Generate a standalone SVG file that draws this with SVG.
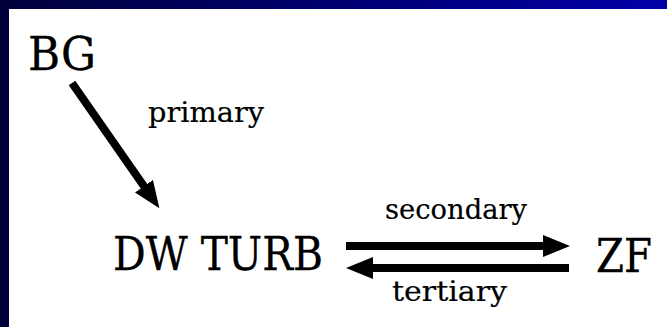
<svg xmlns="http://www.w3.org/2000/svg" width="667" height="327" viewBox="0 0 667 327">
  <defs>
    <linearGradient id="bg" x1="0" y1="0" x2="1" y2="0">
      <stop offset="0" stop-color="#00003a"/>
      <stop offset="1" stop-color="#0000a8"/>
    </linearGradient>
    <marker id="head" markerUnits="userSpaceOnUse" markerWidth="28" markerHeight="22" refX="1" refY="11" orient="auto">
      <path d="M0,0 L27,11 L0,22 Z" fill="#000"/>
    </marker>
    <style>
      .big { font-family: "DejaVu Serif", serif; font-size: 46px; fill: #000; stroke: #000; stroke-width: 0.3; }
      .lbl { font-family: "DejaVu Serif", serif; font-size: 28px; fill: #000; stroke: #000; stroke-width: 0.2; }
      .edge { stroke: #000; stroke-width: 8; fill: none; marker-end: url(#head); }
    </style>
  </defs>
  <rect x="0" y="0" width="667" height="327" fill="url(#bg)"/>
  <rect x="9" y="9" width="658" height="318" fill="#fff"/>

  <g id="connectors">
    <line class="edge" x1="72" y1="83" x2="144.5" y2="187"/>
    <line class="edge" x1="346" y1="246" x2="544" y2="246"/>
    <line class="edge" x1="569" y1="268" x2="372" y2="268"/>
    <text class="lbl" x="148" y="122" textLength="116" lengthAdjust="spacingAndGlyphs">primary</text>
    <text class="lbl" x="385" y="219" textLength="142" lengthAdjust="spacingAndGlyphs">secondary</text>
    <text class="lbl" x="392" y="301" textLength="115" lengthAdjust="spacingAndGlyphs">tertiary</text>
  </g>

  <g id="node-bg"><text class="big" x="28" y="70" textLength="68" lengthAdjust="spacingAndGlyphs">BG</text></g>
  <g id="node-dwturb"><text class="big" x="113" y="270" textLength="210" lengthAdjust="spacingAndGlyphs">DW TURB</text></g>
  <g id="node-zf"><text class="big" x="596" y="272" textLength="56" lengthAdjust="spacingAndGlyphs">ZF</text></g>
</svg>
